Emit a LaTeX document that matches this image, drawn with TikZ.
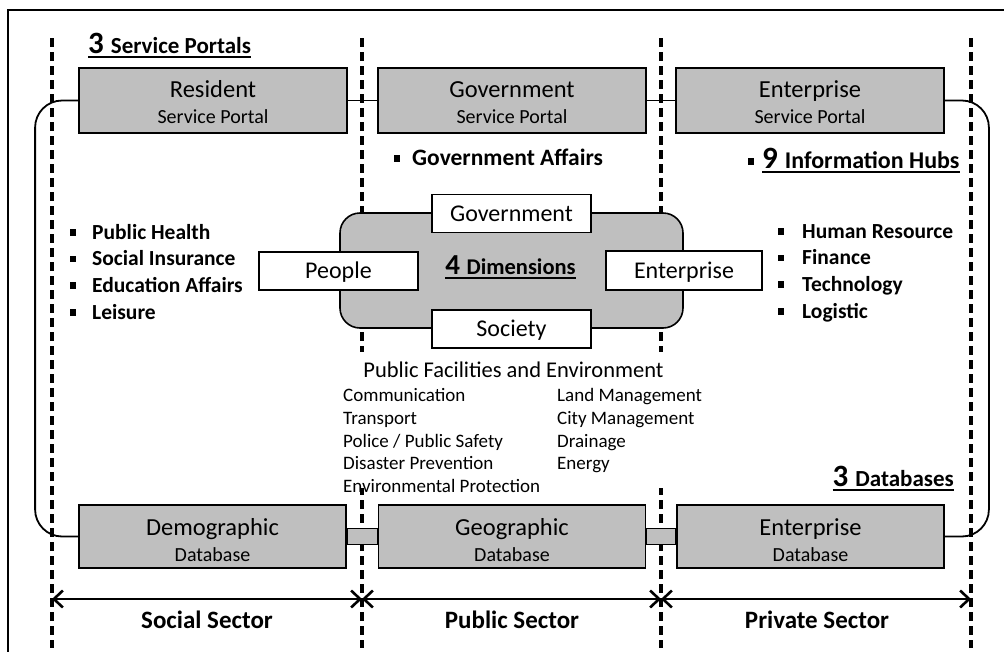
\documentclass[tikz,border=0pt]{standalone}
\usepackage{fontspec}
\setmainfont{Carlito}
\usetikzlibrary{arrows.meta,calc}
\definecolor{boxgray}{RGB}{191,191,191}
\newcommand\fsz[2]{\fontsize{#1}{#2}\selectfont}
\newcommand\myul[1]{\setbox0\hbox{#1}\rlap{\rule[-4.5pt]{\wd0}{1.8pt}}\box0}
\newcommand\sqb{\rule[3.5pt]{6pt}{6.5pt}}
\tikzset{
  boxnode/.style={draw, line width=1.8pt, fill=boxgray, inner sep=0pt, minimum width=268pt, minimum height=65pt},
  dbnode/.style={boxnode, minimum width=267pt, minimum height=63pt},
  wbox/.style={draw, line width=1.6pt, fill=white, inner sep=0pt, minimum width=159pt, minimum height=38pt,
               text height=15pt, text depth=0pt, font=\fsz{24}{28}},
  ttl/.style={anchor=base, inner sep=0pt, font=\fsz{24.5}{28}},
  sub/.style={anchor=base, inner sep=0pt, font=\fsz{20}{24}},
  item/.style={anchor=base west, inner sep=0pt, font=\fsz{21.5}{25}\bfseries},
  fac/.style={anchor=base west, inner sep=0pt, font=\fsz{19}{22}},
  sepline/.style={line width=3.2pt, dash pattern=on 9pt off 5pt},
  conn/.style={line width=1.8pt},
  cbox/.style={draw, line width=1.6pt, fill=boxgray},
  sect/.style={line width=2.6pt, {Straight Barb[length=9pt,width=17pt]}-{Straight Barb[length=9pt,width=17pt]}},
  sectlbl/.style={anchor=base, inner sep=0pt, font=\fsz{25}{29}\bfseries},
}
\begin{document}
\begin{tikzpicture}[x=1pt,y=-1pt]
\useasboundingbox (0,0) rectangle (1004,651);
% frame
\draw[line width=2pt] (8,665) -- (8,10) -- (1015,10);
% sector separators
\foreach \n/\x in {1/52,2/362,3/661,4/971}{
  \coordinate (t\n) at (\x,38);
  \coordinate (b\n) at (\x,648);
  \draw[sepline] (t\n) -- (b\n);
}
% portals
\node[boxnode] (res) at (213,100.5) {};
\node[boxnode] (gov) at (512,100.5) {};
\node[boxnode] (entp) at (810,100.5) {};
\node[ttl] (res-t) at (213,97) {Resident};
\node[sub] (res-s) at (213,123.5) {Service Portal};
\node[ttl] (gov-t) at (512,97) {Government};
\node[sub] (gov-s) at (512,123.5) {Service Portal};
\node[ttl] (entp-t) at (810,97) {Enterprise};
\node[sub] (entp-s) at (810,123.5) {Service Portal};
% databases
\node[dbnode] (dem) at (212.5,536.5) {};
\node[dbnode] (geo) at (512,536.5) {};
\node[dbnode] (entd) at (810.5,536.5) {};
\node[ttl] (dem-t) at (212.5,535) {Demographic};
\node[sub] (dem-s) at (212.5,561.5) {Database};
\node[ttl] (geo-t) at (512,535) {Geographic};
\node[sub] (geo-s) at (512,561.5) {Database};
\node[ttl] (entd-t) at (810.5,535) {Enterprise};
\node[sub] (entd-s) at (810.5,561.5) {Database};
% connectors
\draw[conn] (res.east) -- (gov.west);
\draw[conn] (gov.east) -- (entp.west);
\draw[conn, rounded corners=27pt] (res.west) -- ++(-43,0) |- (dem.west);
\draw[conn, rounded corners=27pt] (entp.east) -- ++(44,0) |- (entd.east);
\draw[cbox] ($(dem.east)+(0,-8)$) rectangle ($(geo.west)+(0,8)$);
\draw[cbox] ($(geo.east)+(0,-8)$) rectangle ($(entd.west)+(0,8)$);
% headings
\node[anchor=base west, inner sep=0pt] (hp) at (88,53)
  {\myul{\fsz{31}{32}\bfseries 3\ \fsz{23}{26}Service Portals}};
\node[anchor=base east, inner sep=0pt] (hd) at (954,486)
  {\myul{\fsz{31}{32}\bfseries 3\ \fsz{23}{26}Databases}};
\node[anchor=base west, inner sep=0pt] (hh) at (748,168)
  {\makebox[14pt][l]{\sqb}\myul{\fsz{31}{32}\bfseries 9\ \fsz{24}{26}Information Hubs}};
\node[item, font=\fsz{23.5}{26}\bfseries] (ga) at (394,165) {\makebox[18pt][l]{\sqb}Government Affairs};
% left list
\node[item] (l1) at (70,239) {\makebox[22pt][l]{\sqb}Public Health};
\node[item] (l2) at (70,265.7) {\makebox[22pt][l]{\sqb}Social Insurance};
\node[item] (l3) at (70,292.3) {\makebox[22pt][l]{\sqb}Education Affairs};
\node[item] (l4) at (70,319) {\makebox[22pt][l]{\sqb}Leisure};
% right list
\node[item] (r1) at (778,238) {\makebox[24pt][l]{\sqb}Human Resource};
\node[item] (r2) at (778,264.7) {\makebox[24pt][l]{\sqb}Finance};
\node[item] (r3) at (778,291.3) {\makebox[24pt][l]{\sqb}Technology};
\node[item] (r4) at (778,318) {\makebox[24pt][l]{\sqb}Logistic};
% dimensions
\node[draw, line width=1.6pt, fill=boxgray, rounded corners=20pt, minimum width=343pt, minimum height=115pt] (dim) at (511.5,270.5) {};
\node[wbox] (dgov) at (511.5,213.5) {Government};
\node[wbox] (dpeo) at (338.5,271) {People};
\node[wbox, minimum width=156pt, minimum height=39pt] (dent) at (684,270.5) {Enterprise};
\node[wbox] (dsoc) at (511.5,329) {Society};
\node[anchor=base, inner sep=0pt] (d4) at (510.5,274)
  {\myul{\fsz{29}{30}\bfseries 4\ \fsz{22.5}{25}Dimensions}};
% public facilities (white text panel hides the separators)
\fill[white] (334,352) rectangle (708,488);
\node[anchor=base, inner sep=0pt, font=\fsz{22.5}{25}] (pf) at (513.5,377) {Public Facilities and Environment};
\node[fac] (f1) at (343,401) {Communication};
\node[fac] (f2) at (343,424) {Transport};
\node[fac] (f3) at (343,447) {Police / Public Safety};
\node[fac] (f4) at (343,469) {Disaster Prevention};
\node[fac] (f5) at (343,492) {Environmental Protection};
\node[fac] (g1) at (557,401) {Land Management};
\node[fac] (g2) at (557,424) {City Management};
\node[fac] (g3) at (557,447) {Drainage};
\node[fac] (g4) at (557,469) {Energy};
% sectors
\foreach \n/\x in {1/52,2/362,3/661,4/971}{ \coordinate (a\n) at (\x,599); }
\draw[sect] (a1) -- (a2);
\draw[sect] (a2) -- (a3);
\draw[sect] (a3) -- (a4);
\node[sectlbl] (s1) at (207,628) {Social Sector};
\node[sectlbl] (s2) at (512,628) {Public Sector};
\node[sectlbl] (s3) at (817,628) {Private Sector};
\end{tikzpicture}
\end{document}
